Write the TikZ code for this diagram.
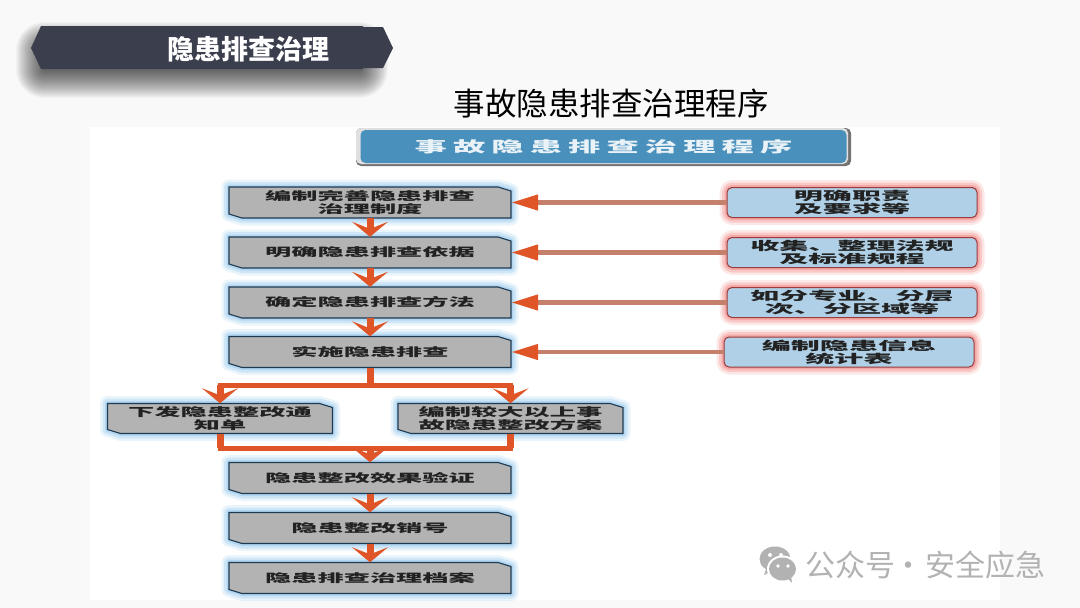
\documentclass[tikz,border=0pt]{standalone}
\usepackage{fontspec}
\usepackage{graphicx}
\setmainfont{Noto Sans CJK SC}
\newfontfamily\hdrfont[LetterSpace=19]{Noto Sans CJK SC}
\usetikzlibrary{arrows.meta,calc}
\definecolor{pagebg}{HTML}{F9F9F9}
\definecolor{bannerc}{HTML}{3B3E4D}
\definecolor{arrowc}{HTML}{DF5528}
\definecolor{stemc}{HTML}{C4806A}
\definecolor{graybox}{HTML}{B3B3B3}
\definecolor{edgec}{HTML}{1F3B52}
\definecolor{glowb}{HTML}{7FBDEB}
\definecolor{glowr}{HTML}{F0706A}
\definecolor{paleb}{HTML}{AFD0E6}
\definecolor{noteedge}{HTML}{9A3A3A}
\definecolor{hdrb}{HTML}{4A90BC}
\definecolor{txtc}{HTML}{222222}
\definecolor{markc}{HTML}{B2B2B2}
\newcommand\sq[2][2.28]{\scalebox{#1}[1]{#2}}
\tikzset{
  glowing/.style={
    preaction={draw=#1,line width=15pt,opacity=.16,line join=round},
    preaction={draw=#1,line width=10pt,opacity=.25,line join=round},
    preaction={draw=#1,line width=5pt,opacity=.35,line join=round}},
  stepshape/.style={glowing=glowb,fill=graybox,draw=edgec,line width=1.1pt},
  steptext/.style={shape=rectangle,inner sep=0pt,align=center,text=txtc,
    font=\fontsize{11.5}{12.5}\selectfont\bfseries},
  notebox/.style={shape=rectangle,rounded corners=5pt,glowing=glowr,
    fill=paleb,draw=noteedge,line width=1pt,
    minimum width=250pt,minimum height=30pt,inner sep=0pt,align=center,text=txtc,
    font=\fontsize{12}{13}\selectfont\bfseries},
  flow/.style={draw=arrowc,line width=7pt,-{Stealth[length=15pt,width=36pt,inset=7pt,fill=arrowc]}},
  flowplain/.style={draw=arrowc,line width=5pt},
  feed/.style={draw=stemc,line width=4.5pt,-{Stealth[length=27pt,width=15pt,inset=0pt,color=arrowc,fill=arrowc]}}
}
% name, x, y, width, height, text
\newcommand\stepnode[6]{%
  \begin{scope}[shift={(#2,#3)}]
    \path[stepshape] ({-#4/2},{-#5/2}) -- ({#4/2-13},{-#5/2}) -- ({#4/2},{-#5/2+4})
      -- ({#4/2},{#5/2}) -- ({-#4/2+13},{#5/2}) -- ({-#4/2},{#5/2-4}) -- cycle;
  \end{scope}
  \node[steptext,minimum width=#4 pt,minimum height=#5 pt] (#1) at (#2,#3) {#6};}
\begin{document}
\begin{tikzpicture}[x=1pt,y=-1pt]
\useasboundingbox (0,0) rectangle (1080,608);
\fill[pagebg] (0,0) rectangle (1080,608);
\fill[white] (90,127) rectangle (1000,600);

% banner shadow
\foreach \w in {2,4,...,56}{
  \draw[black,opacity=.026,line width=\w pt,line join=round]
    (44,50)--(360,50)--(360,70)--(44,70)--cycle;
}
% banner
\fill[bannerc] (363,27)--(383,27)--(393,48)--(383,68)--(363,68)--cycle;
\fill[bannerc] (41,26)--(363,26)--(363,69)--(41,69)--(31,48)--cycle;
\node[text=white,inner sep=0pt,font=\fontsize{27}{28}\selectfont\bfseries] (bannertext) at (248,49) {隐患排查治理};
\node[text=black,inner sep=0pt,font=\fontsize{31.5}{32}\selectfont] (title) at (611,103) {事故隐患排查治理程序};

% header
\fill[rounded corners=5pt,fill=black!55] (356,128) rectangle (851,166);
\fill[rounded corners=5pt,fill=black!12] (356,128) rectangle (848,164);
\node[shape=rectangle,rounded corners=5pt,fill=hdrb,inner sep=0pt,minimum width=486pt,minimum height=33pt,
  text=white!88!hdrb,font=\fontsize{15}{16}\bfseries\selectfont] (header) at (603.5,146.5)
  {\sq[2.15]{\hdrfont\bfseries 事故隐患排查治理程序}};

% flow boxes
\stepnode{b1}{370}{202.5}{282}{31}{\sq{编制完善隐患排查}\\\sq{治理制度}}
\stepnode{b2}{370}{252.5}{282}{31}{\sq{明确隐患排查依据}}
\stepnode{b3}{370}{302.5}{282}{31}{\sq{确定隐患排查方法}}
\stepnode{b4}{370}{352}{282}{31}{\sq{实施隐患排查}}
\stepnode{s1}{220}{418.5}{225}{30}{\sq{下发隐患整改通}\\\sq{知单}}
\stepnode{s2}{510.5}{418.5}{225}{30}{\sq{编制较大以上事}\\\sq{故隐患整改方案}}
\stepnode{b5}{370}{478}{282}{31}{\sq{隐患整改效果验证}}
\stepnode{b6}{370}{528}{282}{31}{\sq{隐患整改销号}}
\stepnode{b7}{370}{578}{282}{31}{\sq{隐患排查治理档案}}

% notes
\node[notebox] (n1) at (852,202.5) {\sq[2.42]{明确职责}\\\sq[2.42]{及要求等}};
\node[notebox] (n2) at (852,252.5) {\sq[2.42]{收集、整理法规}\\\sq[2.42]{及标准规程}};
\node[notebox] (n3) at (852,302.5) {\sq[2.42]{如分专业、分层}\\\sq[2.42]{次、分区域等}};
\node[notebox] (n4) at (849,352) {\sq[2.42]{编制隐患信息}\\\sq[2.42]{统计表}};

% connectors
\foreach \a/\b in {b1/b2,b2/b3,b3/b4,b5/b6,b6/b7}{
  \draw[flow] (\a.south) -- (\b.north);
}
\foreach \a/\b in {n1/b1,n2/b2,n3/b3,n4/b4}{
  \draw[feed] (\a.west) -- (\b.east);
}
\coordinate (split) at (370,385);
\coordinate (merge) at (370,448);
\draw[flowplain,line width=7pt] (b4.south) -- (split);
\draw[flowplain,line cap=rect] (s1.north |- split) -- (s2.north |- split);
\draw[flow] (s1.north |- split) -- (s1.north);
\draw[flow] (s2.north |- split) -- (s2.north);
\draw[flowplain,line cap=rect] (s1.south |- merge) -- (s2.south |- merge);
\draw[flowplain,line width=7pt] (s1.south) -- (s1.south |- merge);
\draw[flowplain,line width=7pt] (s2.south) -- (s2.south |- merge);
\draw[flow] (merge) -- (b5.north);

% watermark
\fill[markc] (775,559) ellipse (15.5 and 12.5);
\fill[markc] (766,569)--(764,575)--(772,571)--cycle;
\fill[white] (782.5,569) ellipse (15.5 and 13.5);
\fill[markc] (782.5,569) ellipse (13.5 and 11.5);
\fill[markc] (787,578)--(792,583)--(791,575)--cycle;
\fill[white] (770,555) circle (2) (781,555) circle (2) (778,566) circle (1.8) (788,566) circle (1.8);
\node[text=markc,inner sep=0pt,anchor=west,font=\fontsize{30}{31}\selectfont] (mark) at (805,565) {公众号\hspace{-1.5pt}·\hspace{1.5pt}安全应急};
\end{tikzpicture}
\end{document}
